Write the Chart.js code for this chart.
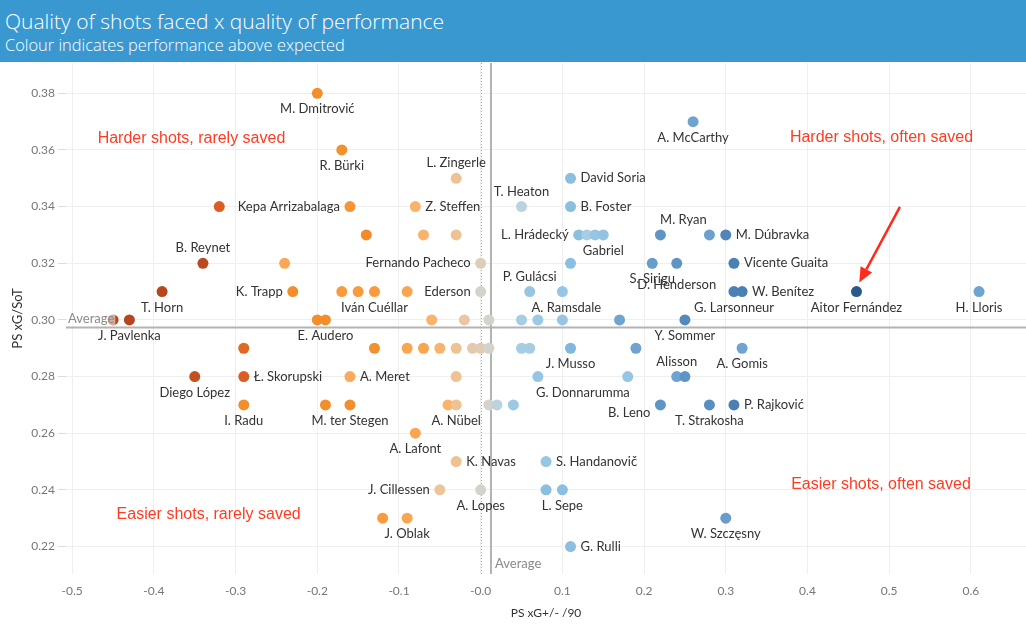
<!DOCTYPE html>
<html>
<head>
<meta charset="utf-8">
<script src="https://cdn.jsdelivr.net/npm/chart.js@4.4.1/dist/chart.umd.min.js"></script>
<style>
  body { margin: 0; background: #fff; width: 1026px; height: 629px; overflow: hidden; }
  #header { position: relative; height: 62px; background: #3a98d0; color: #fff; font-family: "Open Sans", "Noto Sans", sans-serif; font-weight: 300; }
  #title { position: absolute; left: 5px; top: 8px; font-size: 21px; line-height: 26px; white-space: nowrap; }
  #subtitle { position: absolute; left: 5px; top: 35px; font-size: 16.4px; line-height: 20px; white-space: nowrap; }
  #chart { display: block; }
</style>
</head>
<body>
<div id="header">
  <div id="title">Quality of shots faced x quality of performance</div>
  <div id="subtitle">Colour indicates performance above expected</div>
</div>
<canvas id="chart" width="1026" height="567"></canvas>
<script>
// goalkeepers, one entry per dot ('' = no label shown)
const players = [
  'M. Dmitrović', 'A. McCarthy', 'R. Bürki', 'L. Zingerle', 'David Soria',
  '', 'Kepa Arrizabalaga', 'Z. Steffen', 'T. Heaton', 'B. Foster',
  '', '', '', 'L. Hrádecký', '', '', 'Gabriel', 'M. Ryan', '', 'M. Dúbravka',
  'B. Reynet', '', 'Fernando Pacheco', '', 'S. Sirigu', 'D. Henderson', 'Vicente Guaita',
  'T. Horn', 'K. Trapp', '', '', 'Iván Cuéllar', '', 'Ederson', 'P. Gulácsi', 'A. Ramsdale',
  'G. Larsonneur', 'W. Benítez', 'Aitor Fernández', 'H. Lloris',
  '', 'J. Pavlenka', '', 'E. Audero', '', '', '', '', '', '', '', 'Y. Sommer',
  '', '', '', '', '', '', '', '', '', '', '', 'J. Musso', '', 'A. Gomis',
  'Diego López', 'Ł. Skorupski', 'A. Meret', '', 'G. Donnarumma', '', 'Alisson', '',
  'I. Radu', '', 'M. ter Stegen', '', 'A. Nübel', '', '', '', 'B. Leno', 'T. Strakosha', 'P. Rajković',
  'A. Lafont', 'K. Navas', 'S. Handanovič', 'J. Cillessen', 'A. Lopes', '', 'L. Sepe',
  '', 'J. Oblak', 'W. Szczęsny', 'G. Rulli'
];

// PS xG+/- per 90
const psxgPlusMinus = [
  -0.20, 0.26, -0.17, -0.03, 0.11,
  -0.32, -0.16, -0.08, 0.05, 0.11,
  -0.14, -0.07, -0.03, 0.12, 0.13, 0.14, 0.15, 0.22, 0.28, 0.30,
  -0.34, -0.24, 0.00, 0.11, 0.21, 0.24, 0.31,
  -0.39, -0.23, -0.17, -0.15, -0.13, -0.09, 0.00, 0.06, 0.10,
  0.31, 0.32, 0.46, 0.61,
  -0.45, -0.43, -0.20, -0.19, -0.06, -0.02, 0.01, 0.05, 0.07, 0.10, 0.17, 0.25,
  -0.29, -0.13, -0.09, -0.07, -0.05, -0.03, -0.01, 0.00, 0.01, 0.05, 0.06, 0.11, 0.19, 0.32,
  -0.35, -0.29, -0.16, -0.03, 0.07, 0.18, 0.24, 0.25,
  -0.29, -0.19, -0.16, -0.04, -0.03, 0.01, 0.02, 0.04, 0.22, 0.28, 0.31,
  -0.08, -0.03, 0.08, -0.05, 0.00, 0.08, 0.10,
  -0.12, -0.09, 0.30, 0.11
];

// PS xG per shot on target
const psxgPerSot = [
  0.38, 0.37, 0.36, 0.35, 0.35,
  0.34, 0.34, 0.34, 0.34, 0.34,
  0.33, 0.33, 0.33, 0.33, 0.33, 0.33, 0.33, 0.33, 0.33, 0.33,
  0.32, 0.32, 0.32, 0.32, 0.32, 0.32, 0.32,
  0.31, 0.31, 0.31, 0.31, 0.31, 0.31, 0.31, 0.31, 0.31,
  0.31, 0.31, 0.31, 0.31,
  0.30, 0.30, 0.30, 0.30, 0.30, 0.30, 0.30, 0.30, 0.30, 0.30, 0.30, 0.30,
  0.29, 0.29, 0.29, 0.29, 0.29, 0.29, 0.29, 0.29, 0.29, 0.29, 0.29, 0.29, 0.29, 0.29,
  0.28, 0.28, 0.28, 0.28, 0.28, 0.28, 0.28, 0.28,
  0.27, 0.27, 0.27, 0.27, 0.27, 0.27, 0.27, 0.27, 0.27, 0.27, 0.27,
  0.26, 0.25, 0.25, 0.24, 0.24, 0.24, 0.24,
  0.23, 0.23, 0.23, 0.22
];

// performance above expected (colour), estimated from the dot shades, -1 .. 1
const perfAboveExpected = [
  -0.30, 0.50, -0.28, -0.07, 0.25,
  -0.55, -0.25, -0.12, 0.08, 0.25,
  -0.32, -0.12, -0.07, 0.25, 0.14, 0.20, 0.22, 0.62, 0.52, 0.75,
  -0.80, -0.16, -0.02, 0.25, 0.55, 0.62, 0.78,
  -0.85, -0.30, -0.22, -0.22, -0.22, -0.17, 0.00, 0.20, 0.20,
  0.78, 0.78, 1.00, 0.50,
  -0.85, -0.85, -0.30, -0.30, -0.12, -0.05, 0.00, 0.15, 0.18, 0.20, 0.50, 0.72,
  -0.50, -0.28, -0.17, -0.17, -0.12, -0.07, -0.04, -0.03, 0.00, 0.15, 0.15, 0.30, 0.50, 0.50,
  -0.70, -0.55, -0.15, -0.07, 0.20, 0.20, 0.50, 0.62,
  -0.30, -0.30, -0.30, -0.12, -0.07, 0.00, 0.08, 0.18, 0.62, 0.68, 0.78,
  -0.17, -0.07, 0.20, -0.06, 0.00, 0.25, 0.25,
  -0.22, -0.17, 0.55, 0.25
];

// where each name sits relative to its dot: a(bove) b(elow) l(eft) r(ight)
const labelSide = [
  'b', 'b', 'b', 'a', 'r',
  '', 'l', 'r', 'a', 'r',
  '', '', '', 'l', '', '', 'b', 'a', '', 'r',
  'a', '', 'l', '', 'b', 'b', 'r',
  'b', 'l', '', '', 'b', '', 'l', 'a', 'b',
  'b', 'r', 'b', 'b',
  '', 'b', '', 'b', '', '', '', '', '', '', '', 'b',
  '', '', '', '', '', '', '', '', '', '', '', 'b', '', 'b',
  'b', 'r', 'r', '', 'b', '', 'a', '',
  'b', '', 'b', '', 'b', '', '', '', 'l', 'b', 'r',
  'b', 'r', 'r', 'l', 'b', '', 'b',
  '', 'b', 'b', 'r'
];
// small nudges Tableau applied to avoid overlaps
const labelNudge = { 'M. Ryan': [23, 0], 'D. Henderson': [0, 6], 'G. Donnarumma': [45, 0], 'B. Leno': [0, 8], 'A. Ramsdale': [4, 0] };

const xTicks = [-0.5, -0.4, -0.3, -0.2, -0.1, 0.0, 0.1, 0.2, 0.3, 0.4, 0.5, 0.6];
const xTickLabels = ['-0.5', '-0.4', '-0.3', '-0.2', '-0.1', '-0.0', '0.1', '0.2', '0.3', '0.4', '0.5', '0.6'];
const yTicks = [0.22, 0.24, 0.26, 0.28, 0.30, 0.32, 0.34, 0.36, 0.38];

const avgPlusMinus = 0.0126;
const avgPerSot = 0.2973;

const quadrantNotes = [
  { text: 'Harder shots, rarely saved', x: -0.354, y: 0.3639 },
  { text: 'Harder shots, often saved', x: 0.4906, y: 0.3642 },
  { text: 'Easier shots, often saved', x: 0.490, y: 0.2420 },
  { text: 'Easier shots, rarely saved', x: -0.333, y: 0.2312 }
];
const arrowFrom = { x: 0.5132, y: 0.3399 };
const arrowTo = { x: 0.4634, y: 0.3132 };

// Tableau-ish orange-blue diverging palette
const stops = [
  [-1.0, '#9e3d22'], [-0.85, '#b5461f'], [-0.7, '#c55020'], [-0.55, '#da5e21'],
  [-0.3, '#f28e2b'], [-0.2, '#f89e40'], [-0.12, '#fab36b'], [-0.06, '#ecc59a'],
  [0.0, '#d3d3cb'], [0.1, '#b4d3e4'], [0.2, '#96c6e3'], [0.3, '#80b7dd'],
  [0.5, '#6fa3d0'], [0.62, '#5f95c5'], [0.75, '#4f85bb'], [1.0, '#2b5a8a']
];
function hexToRgb(h) {
  return [parseInt(h.slice(1, 3), 16), parseInt(h.slice(3, 5), 16), parseInt(h.slice(5, 7), 16)];
}
function colourFor(v) {
  for (let i = 1; i < stops.length; i++) {
    if (v <= stops[i][0]) {
      const t = (v - stops[i - 1][0]) / (stops[i][0] - stops[i - 1][0]);
      const a = hexToRgb(stops[i - 1][1]), b = hexToRgb(stops[i][1]);
      const c = a.map((ch, k) => Math.round(ch + (b[k] - ch) * t));
      return 'rgb(' + c.join(',') + ')';
    }
  }
  return stops[stops.length - 1][1];
}

const labelFont = '13px Lato, "Noto Sans", sans-serif';

const overlay = {
  id: 'overlay',
  beforeDatasetsDraw(chart) {
    const { ctx, chartArea, scales: { x, y } } = chart;
    ctx.save();
    // dotted zero line
    const zx = Math.round(x.getPixelForValue(0)) + 0.5;
    ctx.strokeStyle = '#a8a8a8';
    ctx.lineWidth = 1;
    ctx.setLineDash([1, 2]);
    ctx.beginPath();
    ctx.moveTo(zx, chartArea.top);
    ctx.lineTo(zx, chartArea.bottom);
    ctx.stroke();
    ctx.setLineDash([]);
    // average reference lines
    ctx.strokeStyle = '#b3b3b3';
    ctx.lineWidth = 2;
    const ax = x.getPixelForValue(avgPlusMinus);
    const ay = y.getPixelForValue(avgPerSot);
    ctx.beginPath();
    ctx.moveTo(ax, chartArea.top);
    ctx.lineTo(ax, chartArea.bottom);
    ctx.moveTo(chartArea.left, ay);
    ctx.lineTo(chartArea.right, ay);
    ctx.stroke();
    ctx.restore();
  },
  afterDatasetsDraw(chart) {
    const { ctx, chartArea, scales: { x, y } } = chart;
    const meta = chart.getDatasetMeta(0);
    ctx.save();
    ctx.font = labelFont;
    ctx.fillStyle = '#333';
    ctx.textBaseline = 'middle';
    meta.data.forEach((pt, i) => {
      const name = players[i];
      if (!name) return;
      const side = labelSide[i];
      const nudge = labelNudge[name] || [0, 0];
      let lx = pt.x, ly = pt.y;
      if (side === 'a') { ly -= 15; ctx.textAlign = 'center'; }
      else if (side === 'b') { ly += 16; ctx.textAlign = 'center'; }
      else if (side === 'l') { lx -= 10; ctx.textAlign = 'right'; }
      else { lx += 10; ctx.textAlign = 'left'; }
      ctx.fillText(name, lx + nudge[0], ly + nudge[1]);
    });

    // "Average" reference labels
    ctx.font = '13px Lato, "Noto Sans", sans-serif';
    ctx.textAlign = 'left';
    const ay = y.getPixelForValue(avgPerSot);
    const w = ctx.measureText('Average').width;
    ctx.fillStyle = 'rgba(255,255,255,0.55)';
    ctx.fillRect(chartArea.left + 1, ay - 17, w + 2, 15);
    ctx.fillStyle = '#8a8a8a';
    ctx.fillText('Average', chartArea.left + 2, ay - 9);
    ctx.fillText('Average', x.getPixelForValue(avgPlusMinus) + 4, chartArea.bottom - 10);

    // quadrant notes
    ctx.font = '16px "Liberation Sans", Arial, sans-serif';
    ctx.fillStyle = '#ff3b22';
    ctx.textAlign = 'center';
    quadrantNotes.forEach(n => ctx.fillText(n.text, x.getPixelForValue(n.x), y.getPixelForValue(n.y)));

    // arrow to Aitor Fernández
    const x0 = x.getPixelForValue(arrowFrom.x), y0 = y.getPixelForValue(arrowFrom.y);
    const x1 = x.getPixelForValue(arrowTo.x), y1 = y.getPixelForValue(arrowTo.y);
    const ang = Math.atan2(y1 - y0, x1 - x0);
    const hl = 15, hw = 6.5;
    const bx = x1 - hl * Math.cos(ang), by = y1 - hl * Math.sin(ang);
    ctx.strokeStyle = '#ff2a1a';
    ctx.fillStyle = '#ff2a1a';
    ctx.lineWidth = 2.5;
    ctx.beginPath();
    ctx.moveTo(x0, y0);
    ctx.lineTo(bx, by);
    ctx.stroke();
    ctx.beginPath();
    ctx.moveTo(x1, y1);
    ctx.lineTo(bx + hw * Math.sin(ang), by - hw * Math.cos(ang));
    ctx.lineTo(bx - hw * Math.sin(ang), by + hw * Math.cos(ang));
    ctx.closePath();
    ctx.fill();
    ctx.restore();
  }
};

const scatterData = psxgPlusMinus.map((v, i) => ({ x: v, y: psxgPerSot[i] }));

new Chart(document.getElementById('chart'), {
  type: 'scatter',
  data: {
    datasets: [{
      data: scatterData,
      pointBackgroundColor: perfAboveExpected.map(colourFor),
      pointBorderWidth: 0,
      pointRadius: 5.5,
      pointHoverRadius: 5.5
    }]
  },
  options: {
    responsive: false,
    animation: false,
    layout: { autoPadding: false, padding: { top: 1, right: 0, left: 0, bottom: 0 } },
    plugins: { legend: { display: false }, tooltip: { enabled: false } },
    scales: {
      x: {
        type: 'linear',
        min: -0.5076,
        max: 0.6675,
        afterBuildTicks: s => { s.ticks = xTicks.map(v => ({ value: v })); },
        afterFit: s => { s.height = 55; s.paddingLeft = 0; s.paddingRight = 0; },
        grid: { color: '#efefef', drawTicks: false },
        border: { display: false },
        ticks: {
          padding: 10,
          color: '#777',
          font: { family: 'Lato, "Noto Sans", sans-serif', size: 12 },
          callback: (v, i) => xTickLabels[i]
        },
        title: {
          display: true,
          text: 'PS xG+/- /90',
          color: '#333',
          font: { family: 'Lato, "Noto Sans", sans-serif', size: 12 },
          padding: { top: 1, bottom: 9 }
        }
      },
      y: {
        type: 'linear',
        min: 0.2103,
        max: 0.3907,
        afterBuildTicks: s => { s.ticks = yTicks.map(v => ({ value: v })); },
        afterFit: s => { s.width = 66; s.paddingTop = 0; s.paddingBottom = 0; },
        grid: { color: '#efefef', tickLength: 8, tickColor: '#dddddd' },
        border: { display: false },
        ticks: {
          padding: 3,
          color: '#777',
          font: { family: 'Lato, "Noto Sans", sans-serif', size: 12 },
          callback: v => v.toFixed(2)
        },
        title: {
          display: true,
          text: 'PS xG/SoT',
          color: '#333',
          font: { family: 'Lato, "Noto Sans", sans-serif', size: 13 },
          padding: { top: 10, bottom: 0 }
        }
      }
    }
  },
  plugins: [overlay]
});
</script>
</body>
</html>
